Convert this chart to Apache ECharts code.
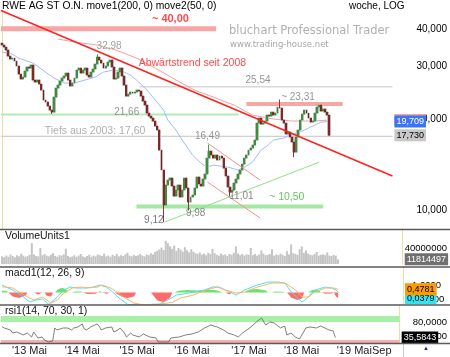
<!DOCTYPE html>
<html><head><meta charset="utf-8">
<script src="https://cdn.jsdelivr.net/npm/echarts@6/dist/echarts.min.js"></script>
<style>html,body{margin:0;padding:0;background:#fff}#c{width:450px;height:357px}</style>
</head><body><div id="c"></div>
<script>
// ---- data ----
const startDate = '2012-11-05';          // first bi-weekly bar
const barCount = 189;                    // categories on the x axis (incl. empty future)
const xTickIndex = [13, 38, 64, 90, 117, 142, 167, 180];
const xTickLabels = ["'13 Mai", "'14 Mai", "'15 Mai", "'16 Mai", "'17 Mai", "'18 Mai", "'19 Mai", "Sep"];

const firstOpen = 35.9;
const closes = [
 35.4, 34.85, 34.06, 32.53, 31.79, 32.03, 31.31, 30.13, 28.34, 27.28,
 27.70, 29.0, 29.90, 29.67, 30.37, 27.07, 26.66, 27.07, 26.26, 25.07,
 23.22, 22.87, 22.18, 21.51, 21.18, 23.76, 25.46, 26.05, 26.86, 27.49,
 27.91, 28.56, 27.07, 25.86, 26.46, 27.49, 29.22, 29.67, 28.56, 29.22,
 29.67, 28.13, 27.70, 28.78, 29.45, 30.60, 32.28, 31.55, 30.83, 29.67,
 30.13, 31.07, 31.55, 29.90, 27.28, 27.49, 28.78, 29.67, 27.91, 26.05,
 23.94, 24.31, 24.69, 24.50, 24.69, 25.07, 24.88, 23.94, 23.04, 22.35,
 21.02, 20.54, 20.23, 19.77, 19.03, 18.46, 15.83, 13.59, 10.39, 12.11,
 12.58, 12.78, 12.02, 11.13, 11.66, 12.11, 11.05, 11.66, 12.78, 11.84,
 10.63, 11.05, 11.22, 11.84, 12.88, 12.21, 12.02, 12.68, 13.18, 14.89,
 15.71, 15.24, 14.89, 15.24, 14.67, 15.12, 14.89, 13.79, 12.98, 11.93,
 11.48, 11.66, 12.30, 12.68, 13.18, 13.59, 14.22, 14.89, 15.24, 15.83,
 16.08, 16.45, 17.10, 19.47, 20.23, 19.32, 19.47, 19.77, 20.70, 20.54,
 21.18, 20.70, 21.02, 22.01, 21.84, 19.93, 19.47, 17.90, 18.18, 17.50,
 16.84, 15.59, 17.50, 18.46, 19.93, 20.86, 21.51, 21.02, 20.23, 19.62,
 19.77, 21.02, 22.01, 22.35, 21.35, 21.68, 21.18, 20.70, 17.73
];
const wickLows = [[24, 20.9], [78, 9.12], [90, 9.98], [110, 11.01], [141, 15.0]];
const wickHighs = [[0, 36.0], [46, 32.98], [100, 16.49], [134, 23.31]];

const ma200 = [[27,37.06],[35,36.22],[46,35.4],[55,34.06],[65,32.03],[74,29.67],[84,27.07],[93,25.07],[102,23.76],[112,22.35],[121,20.70],[131,20.08],[140,19.78],[150,19.78],[158,19.93]];
const ma50 = [[0,33.55],[4,33.29],[8,32.03],[15,30.83],[21,28.78],[25,27.5],[30,26.46],[35,26.46],[40,27.07],[45,27.7],[49,28.78],[54,29.22],[59,28.78],[62,28.13],[65,27.07],[70,25.07],[74,23.22],[78,21.51],[80,19.93],[84,18.46],[87,17.10],[92,15.24],[96,14.33],[99,13.90],[102,14.11],[109,13.90],[114,13.59],[118,14.0],[121,14.45],[125,15.83],[128,16.33],[131,17.10],[136,17.36],[140,17.90],[144,18.18],[149,18.89],[154,19.62],[158,19.709]];

const volumeMio = [
 19, 17, 21, 18, 24, 20, 17, 22, 19, 26,
 21, 18, 20, 23, 52, 24, 20, 19, 40, 22,
 25, 21, 19, 23, 27, 20, 18, 22, 21, 24,
 38, 20, 17, 19, 22, 18, 21, 25, 19, 17,
 20, 23, 18, 21, 19, 24, 22, 20, 26, 19,
 21, 18, 23, 20, 25, 19, 22, 20, 24, 28,
 21, 19, 23, 20, 22, 25, 21, 19, 24, 22,
 27, 24, 30, 33, 36, 41, 35, 58, 52, 44,
 38, 46, 33, 40, 36, 31, 42, 34, 29, 37,
 31, 27, 25, 29, 24, 26, 22, 28, 25, 38,
 27, 23, 21, 26, 22, 24, 20, 25, 23, 28,
 44, 26, 22, 25, 21, 24, 23, 40, 22, 25,
 21, 24, 34, 26, 22, 23, 25, 37, 21, 24,
 22, 26, 23, 20, 32, 24, 49, 27, 25, 23,
 37, 44, 28, 34, 26, 23, 22, 25, 30, 21,
 23, 24, 22, 29, 21, 20, 23, 21, 11.814497
];

const macdLine = [[0,1.11],[5,0.36],[10,-0.69],[13,-1.44],[16,-1.14],[19,-0.99],[22,-1.8],[26,-0.69],[29,0.36],[32,0.81],[35,0.66],[39,0.66],[43,0.81],[46,1.11],[49,0.81],[52,0.06],[55,-0.84],[59,-1.8],[65,-1.85],[70,-1.8],[74,-1.75],[78,-1.14],[82,-0.39],[88,-0.09],[95,0.36],[99,0.81],[102,0.81],[105,0.36],[110,-0.39],[114,0.36],[120,1.11],[125,1.56],[130,1.56],[133,1.41],[136,0.06],[139,-0.84],[141,-1.44],[144,-0.69],[147,0.36],[152,0.81],[155,0.66],[157,0.36],[158,0.0379]];
const signalLine = [[0,0.86],[5,0.66],[8,0.06],[12,-0.69],[15,-1.14],[19,-0.69],[23,-1.59],[26,-1.14],[29,-0.09],[33,0.66],[37,0.81],[40,0.66],[45,0.81],[47,1.11],[51,0.66],[54,0.06],[57,-0.69],[62,-1.59],[66,-1.85],[73,-1.8],[80,-1.5],[84,-0.84],[90,-0.39],[96,0.36],[101,0.81],[105,0.36],[110,-0.09],[114,0.06],[120,0.81],[127,1.41],[133,1.41],[138,0.36],[141,-0.69],[144,-0.69],[147,0.06],[152,0.66],[156,0.66],[158,0.4781]];
const histUp = [[0,0.3],[2,0.2],[3,0],[25,0],[26,0.4],[28,0.7],[30,0.5],[31,0],[33,0],[34,0.15],[37,0.15],[38,0],[45,0],[46,0.2],[47,0],[81,0],[83,0.25],[87,0.35],[92,0.3],[97,0.4],[100,0.35],[104,0],[114,0],[116,0.4],[120,0.5],[124,0.3],[125,0],[127,0],[128,0.15],[132,0.1],[133,0],[144,0],[146,0.4],[149,0.3],[150,0]];
const histDown = [[3,0],[5,-0.6],[8,-0.85],[11,-0.5],[12,0],[15,0],[17,-0.3],[19,0],[20,0],[21,-0.5],[23,-0.6],[24,0],[38,0],[40,-0.25],[44,-0.2],[45,0],[47,0],[49,-0.2],[51,0],[53,0],[56,-0.6],[59,-0.85],[62,-0.6],[63,0],[70,0],[73,-1.2],[76,-1.45],[79,-0.8],[80,0],[105,0],[107,-0.3],[108,0],[134,0],[136,-0.8],[139,-1.15],[141,-0.9],[142,0],[150,0],[152,-0.2],[155,-0.15],[156,0],[157,-0.6],[158,-0.85]];

const rsiLine = [[0,66.5],[1,62.8],[4,57.1],[5,48.5],[7,51.3],[10,42.8],[12,48.5],[14,37.0],[15,51.3],[17,34.2],[19,37.0],[20,28.4],[22,22.7],[24,25.6],[25,62.8],[26,57.1],[29,62.8],[31,62.8],[33,57.1],[34,62.8],[36,65.7],[38,74.3],[39,59.9],[40,57.1],[42,65.7],[45,74.3],[46,68.5],[47,57.1],[49,62.8],[52,65.7],[53,51.3],[55,57.1],[56,62.8],[58,48.5],[59,37.0],[61,48.5],[62,42.8],[65,37.0],[67,45.6],[70,37.0],[73,34.2],[74,22.7],[77,22.7],[79,22.7],[80,34.2],[84,37.0],[87,42.8],[90,45.6],[93,51.3],[96,62.8],[99,71.4],[102,65.7],[105,57.1],[107,48.5],[110,42.8],[112,37.0],[114,48.5],[116,57.1],[118,65.7],[120,77.1],[123,91.5],[125,71.4],[127,80.0],[129,77.1],[132,62.8],[134,68.5],[135,42.8],[137,48.5],[139,37.0],[141,31.3],[143,51.3],[144,62.8],[146,65.7],[149,62.8],[151,68.5],[152,65.7],[154,59.9],[155,57.1],[157,54.2],[158,35.5843]];
const rsiUpperZone = [80, 97];
const rsiLowerZone = [19.8, 28.5];

const priceTicks = [10, 20, 30, 40];
const volumeTicks = [20000000, 40000000];
const macdTicks = [-1, 1];
const rsiTicks = [40, 80];

// drawn levels: [[x index, price], [x index, price]]
const band40 = [[-0.5, 40.1], [103.4, 40.1]];
const band2331 = [[118, 22.52], [164.5, 22.52]];
const band1050 = [[64.9, 10.27], [155.1, 10.27]];
const trendDown = [[-0.5, 46.13], [188.5, 12.98]];
const level2554 = [[66.3, 25.7], [188.5, 25.7]];
const level2166 = [[-0.5, 20.78], [114.2, 20.78]];
const level1760 = [[-0.5, 17.6], [188.5, 17.6]];
const channelUpper = [[99.2, 16.71], [124.6, 12.58]];
const channelLower = [[99.2, 12.39], [124.6, 9.41]];
const trendUp = [[78.5, 9.12], [153.2, 14.44]];

const noteTexts = ['~ 40,00', '32,98', 'Abwärtstrend seit 2008', '25,54', '~ 23,31', '21,66', 'Tiefs aus 2003: 17,60', '16,49', '11,01', '~ 10,50', '9,12', '9,98'];
const noteAt = [[81.3,43.2],[51.7,35.13],[91.9,30.83],[123.6,27.07],[142.9,23.76],[60.2,21.18],[44.9,18.32],[99.2,17.63],[115.6,11.13],[137.5,11.05],[73.3,9.26],[93.5,9.77]];

const lastClose = 17.73, lastMa50 = 19.709, lastMa200 = 19.93, lastVolume = 11814497;
const lastMacd = 0.0379, lastSignal = 0.4781, lastRsi = 35.5843;

// ---- build ----
const FONT = 'Liberation Sans, Arial, sans-serif';
const categories = [];
{ const t0 = Date.parse(startDate + 'T00:00:00Z');
  for (let i = 0; i < barCount; i++) categories.push(new Date(t0 + i * 14 * 864e5).toISOString().slice(0, 10)); }
const lowMap = Object.fromEntries(wickLows), highMap = Object.fromEntries(wickHighs);
const candles = closes.map((c, i) => {
  const o = i === 0 ? firstOpen : closes[i - 1];
  const lo = lowMap[i] !== undefined ? lowMap[i] : Math.min(o, c);
  const hi = highMap[i] !== undefined ? highMap[i] : Math.max(o, c);
  return [o, c, lo, hi];
});
const fmt4 = v => v.toFixed(4).replace('.', ',');
const fmt3 = v => v.toFixed(3).replace('.', ',');
const noteStyle = [
  {color:'#ff1a1a', fontSize:11, fontWeight:'bold'},
  {color:'#8a8a8a'}, {color:'#ff1a1a', fontSize:10.5}, {color:'#7a7a7a'}, {color:'#7a7a7a'},
  {color:'#7a7a7a'}, {color:'#9a9a9a', fontSize:10.5}, {color:'#7a7a7a'}, {color:'#666'},
  {color:'#3cb43c', fontSize:10.5}, {color:'#555'}, {color:'#666'}
];
function tagLine(value, text, bg, fg, offset) {
  return { silent: true, symbol: ['none', 'none'], animation: false,
    lineStyle: { color: 'rgba(255,255,255,0)', width: 1, type: 'solid' },
    label: { show: true, position: 'end', distance: 2, formatter: text, backgroundColor: bg, color: fg,
      fontSize: 9, fontFamily: FONT, padding: [2, 2, 1, 2], offset: offset || [0, 0] },
    emphasis: { disabled: true },
    data: [{ yAxis: value }] };
}
function lineSeries(data, color, width, extra) {
  return Object.assign({ type: 'line', xAxisIndex: 1, yAxisIndex: 0, data, symbol: 'none', silent: true,
    lineStyle: { color, width }, z: 3 }, extra || {});
}
const sepStyle = { stroke: '#5a5a5a', lineWidth: 1.5 };
const yLine = { show: true, lineStyle: { color: '#f0dca0', width: 1 } };

const option = {
  animation: false,
  backgroundColor: '#fff',
  textStyle: { fontFamily: FONT },
  title: [
    { text: 'RWE AG ST O.N. move1(200, 0) move2(50, 0)', left: 2, top: 1, padding: 0, textStyle: { fontSize: 10.3, fontWeight: 'normal', color: '#000', fontFamily: FONT } },
    { text: 'woche, LOG', left: 349, top: 1, padding: 0, textStyle: { fontSize: 10, fontWeight: 'normal', color: '#000', fontFamily: FONT } },
    { text: 'bluchart Professional Trader', left: 229, top: 25, padding: 0, textStyle: { fontSize: 11.5, fontWeight: 'normal', color: '#b0b0b0', fontFamily: 'DejaVu Sans' } },
    { text: 'www.trading-house.net', left: 230, top: 40, padding: 0, textStyle: { fontSize: 8.5, fontWeight: 'normal', color: '#a8a8a8', fontFamily: 'DejaVu Sans' } },
    { text: 'VolumeUnits1', left: 5, top: 231, padding: 0, textStyle: { fontSize: 10.5, fontWeight: 'normal', color: '#111', fontFamily: FONT } },
    { text: 'macd1(12, 26, 9)', left: 5, top: 268, padding: 0, textStyle: { fontSize: 10.5, fontWeight: 'normal', color: '#111', fontFamily: FONT } },
    { text: 'rsi1(14, 70, 30, 1)', left: 5, top: 306, padding: 0, textStyle: { fontSize: 10.5, fontWeight: 'normal', color: '#111', fontFamily: FONT } }
  ],
  grid: [
    { left: 1, right: 47, top: 10, height: 219 },
    { left: 1, right: 47, top: 229, height: 35 },
    { left: 1, right: 47, top: 267, height: 38 },
    { left: 1, right: 47, top: 305, height: 38 }
  ],
  xAxis: [
    { type: 'category', gridIndex: 0, data: categories, show: false },
    { type: 'value', gridIndex: 0, min: -0.5, max: barCount - 0.5, show: false },
    { type: 'category', gridIndex: 1, data: categories, show: false },
    { type: 'category', gridIndex: 2, data: categories, show: false },
    { type: 'category', gridIndex: 3, data: categories,
      axisLine: { show: false }, axisTick: { show: false }, splitLine: { show: false },
      axisLabel: { interval: (i) => xTickIndex.includes(i), formatter: (v, i) => xTickLabels[xTickIndex.indexOf(i)] || '',
        fontSize: 11, color: '#222', margin: 2, hideOverlap: false } }
  ],
  yAxis: [
    { type: 'log', gridIndex: 0, position: 'right', min: 8.65, max: 46.3, logBase: 10,
      axisLine: yLine, axisTick: { show: false }, splitLine: { show: false },
      axisLabel: { customValues: priceTicks, formatter: fmt3, fontSize: 10, color: '#000', margin: 24, align: 'left' } },
    { type: 'value', gridIndex: 1, position: 'right', min: 0, max: 87500000,
      axisLine: yLine, axisTick: { show: false }, splitLine: { show: false },
      axisLabel: { customValues: volumeTicks, formatter: v => String(v), fontSize: 9.5, color: '#000', margin: 2, align: 'left' } },
    { type: 'value', gridIndex: 2, position: 'right', min: -1.89, max: 3.82,
      axisLine: yLine, axisTick: { show: false }, splitLine: { show: false },
      axisLabel: { customValues: macdTicks, formatter: fmt4, fontSize: 9.5, color: '#000', margin: 9, align: 'left' } },
    { type: 'value', gridIndex: 3, position: 'right', min: 19.8, max: 128.7,
      axisLine: yLine, axisTick: { show: false }, splitLine: { show: false },
      axisLabel: { customValues: rsiTicks, formatter: fmt4, fontSize: 9.5, color: '#000', margin: 13, align: 'left' } }
  ],
  graphic: [
    { type: 'line', shape: { x1: 0, y1: 229.5, x2: 450, y2: 229.5 }, style: sepStyle, z: 100 },
    { type: 'line', shape: { x1: 0, y1: 267, x2: 450, y2: 267 }, style: sepStyle, z: 100 },
    { type: 'line', shape: { x1: 0, y1: 305, x2: 450, y2: 305 }, style: sepStyle, z: 100 },
    { type: 'line', shape: { x1: 0, y1: 343.5, x2: 450, y2: 343.5 }, style: sepStyle, z: 100 },
    { type: 'line', shape: { x1: 403.5, y1: 343.5, x2: 403.5, y2: 357 }, style: { stroke: '#c8c8c8', lineWidth: 1 } },
    { type: 'text', left: 423, top: 345, style: { text: '▲', fontSize: 6, fill: '#1a237e' } }
  ],
  series: [
    lineSeries(band40, '#f7a6a6', 5, { z: 1 }),
    lineSeries(band2331, '#f7a6a6', 4, { z: 1 }),
    lineSeries(band1050, '#a4e8a4', 4, { z: 1 }),
    lineSeries(level1760, '#c4c4c4', 1, { z: 1 }),
    lineSeries(level2554, '#c4c4c4', 1, { z: 1 }),
    lineSeries(level2166, '#b0ecb0', 2, { z: 1 }),
    lineSeries(ma200, '#f3a0a0', 1, { z: 2, markLine: tagLine(lastMa200, fmt3(lastMa200), '#f3a0a0', '#fff') }),
    lineSeries(ma50, '#a0bdf5', 1, { z: 2, markLine: tagLine(lastMa50, fmt3(lastMa50), '#3a74f2', '#fff') }),
    { type: 'candlestick', xAxisIndex: 0, yAxisIndex: 0, data: candles, barWidth: 3, silent: true, z: 3,
      itemStyle: { color: '#bdbdbd', color0: '#bdbdbd', borderColor: '#bdbdbd', borderColor0: '#bdbdbd', borderWidth: 1 } },
    { type: 'candlestick', xAxisIndex: 0, yAxisIndex: 0, data: candles, barWidth: 1.4, silent: true, z: 4,
      itemStyle: { color: '#2c8c2c', color0: '#7d1515', borderColor: '#2c8c2c', borderColor0: '#7d1515', borderWidth: 0.8 },
      markLine: tagLine(lastClose, fmt3(lastClose), '#c8c8c8', '#000') },
    lineSeries(trendDown, '#ff2020', 1.5, { z: 5 }),
    lineSeries(channelUpper, '#f29090', 1, { z: 5 }),
    lineSeries(channelLower, '#f29090', 1, { z: 5 }),
    lineSeries(trendUp, '#8fe08f', 1, { z: 5 }),
    { type: 'scatter', xAxisIndex: 1, yAxisIndex: 0, silent: true, z: 6, symbolSize: 1,
      itemStyle: { color: 'rgba(0,0,0,0)' },
      data: noteTexts.map((t, i) => ({ value: noteAt[i],
        label: Object.assign({ show: true, position: 'inside', formatter: t, fontSize: 10, fontFamily: FONT }, noteStyle[i]) })) },
    { type: 'bar', xAxisIndex: 2, yAxisIndex: 1, data: volumeMio.map(v => Math.round(v * 1e6)), barWidth: 2, silent: true,
      itemStyle: { color: '#c4c4c4' }, markLine: tagLine(lastVolume, String(lastVolume), '#707070', '#fff') },
    { type: 'line', xAxisIndex: 3, yAxisIndex: 2, data: histUp, symbol: 'none', silent: true,
      lineStyle: { width: 0 }, areaStyle: { color: '#6ee06e', opacity: 1 } },
    { type: 'line', xAxisIndex: 3, yAxisIndex: 2, data: histDown, symbol: 'none', silent: true,
      lineStyle: { width: 0 }, areaStyle: { color: '#ff6a6a', opacity: 1 } },
    { type: 'line', xAxisIndex: 3, yAxisIndex: 2, data: macdLine, symbol: 'none', silent: true,
      lineStyle: { color: '#40e6f2', width: 1 }, markLine: tagLine(lastMacd, fmt4(lastMacd), '#33e4f0', '#000', [0, 6]) },
    { type: 'line', xAxisIndex: 3, yAxisIndex: 2, data: signalLine, symbol: 'none', silent: true,
      lineStyle: { color: '#ffb266', width: 1 }, markLine: tagLine(lastSignal, fmt4(lastSignal), '#ff9a00', '#000') },
    { type: 'line', xAxisIndex: 4, yAxisIndex: 3, data: rsiLine, symbol: 'none', silent: true,
      lineStyle: { color: '#606060', width: 0.8 },
      markArea: { silent: true, data: [
        [{ yAxis: rsiUpperZone[0], itemStyle: { color: '#a8f0a8' } }, { yAxis: rsiUpperZone[1] }],
        [{ yAxis: rsiLowerZone[0], itemStyle: { color: '#f6b0b0' } }, { yAxis: rsiLowerZone[1] }]
      ] },
      markLine: tagLine(lastRsi, fmt4(lastRsi), '#000', '#fff') }
  ]
};
const chart = echarts.init(document.getElementById('c'), null, { renderer: 'canvas' });
chart.setOption(option);
</script>
</body></html>
